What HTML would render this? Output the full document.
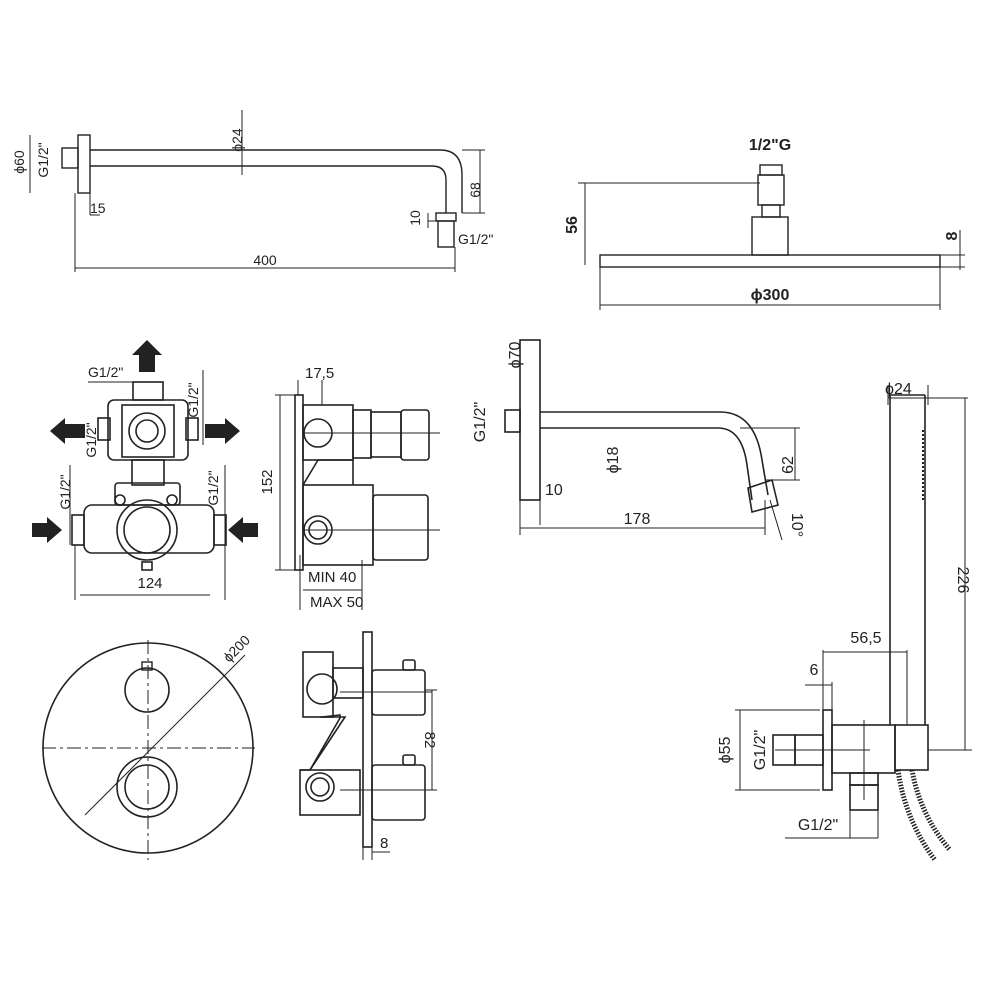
<!DOCTYPE html>
<html><head><meta charset="utf-8"><style>
html,body{margin:0;padding:0;background:#fff}
svg{display:block}
text{font-family:"Liberation Sans",sans-serif;fill:#222}
</style></head><body>
<svg width="1000" height="1000" viewBox="0 0 1000 1000" xmlns="http://www.w3.org/2000/svg">
<g stroke="#222" stroke-width="1.4" fill="none">
<!-- TOP LEFT shower arm -->
<rect x="78" y="135" width="12" height="58"/>
<rect x="62" y="148" width="16" height="20"/>
<path d="M90 150 H440 Q462 150 462 175 V213 M90 166 H432 Q446 166 446 180 V213"/>
<rect x="436" y="213" width="20" height="8"/>
<rect x="438" y="221" width="16" height="26"/>
<path d="M75 193 V272 M455 247 V272 M75 268 H455" stroke-width="1"/>
<path d="M90 193 V215 M100 215 H90" stroke-width="1"/>
<path d="M462 150 H485 M462 213 H485 M480 150 V213" stroke-width="1"/>
<path d="M428 213 V228 M428 221 H436" stroke-width="1"/>
<path d="M242 110 V175" stroke-width="1"/>
<path d="M30 135 V193" stroke-width="1"/>
<!-- TOP RIGHT shower head -->
<rect x="760" y="165" width="22" height="10"/>
<rect x="758" y="175" width="26" height="30"/>
<rect x="762" y="205" width="18" height="12"/>
<rect x="752" y="217" width="36" height="38"/>
<rect x="600" y="255" width="340" height="12"/>
<path d="M578 183 H760 M585 183 V265" stroke-width="1"/>
<path d="M600 267 V310 M940 267 V310 M600 305 H940" stroke-width="1"/>
<path d="M940 255 H965 M940 267 H965 M960 230 V270" stroke-width="1"/>
<!-- VALVE top view -->
<g stroke-width="1.6">
<rect x="133" y="382" width="30" height="18"/>
<rect x="108" y="400" width="80" height="60" rx="6"/>
<rect x="122" y="405" width="52" height="52"/>
<circle cx="147" cy="431" r="18"/><circle cx="147" cy="431" r="11"/>
<rect x="98" y="418" width="12" height="22"/><rect x="186" y="418" width="12" height="22"/>
<rect x="132" y="460" width="32" height="25"/>
<rect x="115" y="483" width="65" height="22" rx="3"/>
<rect x="84" y="505" width="130" height="48" rx="8"/>
<circle cx="147" cy="530" r="30"/><circle cx="147" cy="530" r="23"/>
<circle cx="120" cy="500" r="5"/><circle cx="172" cy="500" r="5"/>
<rect x="72" y="515" width="12" height="30"/><rect x="214" y="515" width="12" height="30"/>
<rect x="142" y="562" width="10" height="8"/>
</g>
<path d="M88 382 H157 M203 370 V445 M70 465 V545 M225 465 V545" stroke-width="1"/>
<path d="M75 545 V600 M225 545 V600 M80 595 H210" stroke-width="1"/>
<!-- arrows -->
<g fill="#222" stroke="none">
<polygon points="147,340 162,355 155,355 155,372 139,372 139,355 132,355"/>
<polygon points="50,431 65,418 65,424 85,424 85,438 65,438 65,444"/>
<polygon points="240,431 225,418 225,424 205,424 205,438 225,438 225,444"/>
<polygon points="62,530 47,517 47,523 32,523 32,537 47,537 47,543"/>
<polygon points="228,530 243,517 243,523 258,523 258,537 243,537 243,543"/>
</g>
<!-- VALVE side view -->
<g stroke-width="1.6">
<rect x="295" y="395" width="8" height="175"/>
<rect x="303" y="405" width="50" height="55"/>
<circle cx="318" cy="433" r="14"/>
<rect x="353" y="410" width="18" height="48"/>
<rect x="371" y="412" width="30" height="45"/>
<rect x="401" y="410" width="28" height="50" rx="3"/>
<path d="M303 485 L318 460 L353 460 L353 485"/>
<rect x="303" y="485" width="70" height="80"/>
<circle cx="318" cy="530" r="14"/><circle cx="318" cy="530" r="9"/>
<rect x="373" y="495" width="55" height="65" rx="3"/>
</g>
<path d="M275 395 H295 M275 570 H295 M280 395 V570 M298 380 V395 M322 380 V405 M300 555 V610 M362 560 V610 M303 590 H362 M303 433 H440 M303 530 H440" stroke-width="1"/>
<!-- ROUND PLATE -->
<circle cx="148" cy="748" r="105" stroke-width="1.6"/>
<circle cx="147" cy="690" r="22" stroke-width="1.6"/>
<rect x="142" y="662" width="10" height="8"/>
<circle cx="147" cy="787" r="30" stroke-width="1.6"/>
<circle cx="147" cy="787" r="22" stroke-width="1.6"/>
<path d="M42 748 H255 M148 640 V860" stroke-dasharray="14 4 3 4" stroke-width="1"/>
<path d="M85 815 L245 655" stroke-width="1"/>
<!-- SIDE VIEW 2 -->
<g stroke-width="1.6">
<rect x="363" y="632" width="9" height="215"/>
<rect x="303" y="652" width="30" height="65"/>
<circle cx="322" cy="689" r="15"/>
<rect x="333" y="668" width="30" height="30"/>
<path d="M322 717 L340 715 L340 718 L310 770"/>
<path d="M320 717 L345 717 L310 770 L300 770"/>
<rect x="300" y="770" width="60" height="45"/>
<circle cx="320" cy="787" r="14"/><circle cx="320" cy="787" r="9"/>
<rect x="372" y="670" width="53" height="45" rx="3"/>
<rect x="372" y="765" width="53" height="55" rx="3"/>
<rect x="403" y="660" width="12" height="10" rx="2"/>
<rect x="403" y="755" width="12" height="10" rx="2"/>
</g>
<path d="M340 692 H432 M340 790 H432 M425 690 H437 M425 790 H437 M432 690 V790 M363 847 V860 M372 847 V860 M372 852 H390" stroke-width="1"/>
<!-- SPOUT -->
<rect x="520" y="340" width="20" height="160" stroke-width="1.6"/>
<rect x="505" y="410" width="15" height="22" stroke-width="1.6"/>
<path d="M540 412 H720 Q755 412 762 460 L768 495 M540 428 H718 Q742 428 747 465 L752 500" stroke-width="1.6"/>
<path d="M748 488 L772 480 L778 505 L752 512 Z" stroke-width="1.6"/>
<path d="M520 500 V535 M765 510 V535 M520 528 H765" stroke-width="1"/>
<path d="M540 500 V525 M740 428 H800 M765 480 H800 M795 428 V480 M770 500 L782 540 M765 500 V535" stroke-width="1"/>
<!-- HAND SHOWER -->
<g stroke-width="1.6">
<path d="M890 395 V725 M925 395 V725 M890 395 H925"/>
<rect x="895" y="725" width="33" height="45"/>
<rect x="832" y="725" width="63" height="48"/>
<rect x="823" y="710" width="9" height="80"/>
<rect x="773" y="735" width="22" height="30"/>
<rect x="795" y="735" width="28" height="30"/>
<rect x="850" y="773" width="28" height="12"/>
<rect x="850" y="785" width="28" height="25"/>
<path d="M898 770 Q905 820 935 860 M912 770 Q920 815 950 850" stroke-width="5" stroke-dasharray="1.5 1.5"/>
</g>
<path d="M923 430 V500" stroke-width="2" stroke-dasharray="2 2"/>
<path d="M888 385 V405 M928 385 V405 M888 398 H968 M928 750 H972 M965 398 V750" stroke-width="1"/>
<path d="M823 710 V650 M907 725 V650 M823 652 H907 M832 710 V682 M832 685 H805 M775 750 H870 M864 720 V800" stroke-width="1"/>
<path d="M735 710 H820 M735 790 H820 M740 710 V790 M850 810 V838 M878 810 V838 M785 838 H878" stroke-width="1"/>
</g>
<!-- TEXT -->
<g font-size="14">
<text x="242" y="140" transform="rotate(-90 242 140)" text-anchor="middle">ϕ24</text>
<text x="24" y="162" transform="rotate(-90 24 162)" text-anchor="middle">ϕ60</text>
<text x="48" y="160" transform="rotate(-90 48 160)" text-anchor="middle">G1/2"</text>
<text x="90" y="213">15</text>
<text x="265" y="265" text-anchor="middle">400</text>
<text x="480" y="190" transform="rotate(-90 480 190)" text-anchor="middle">68</text>
<text x="420" y="218" transform="rotate(-90 420 218)" text-anchor="middle">10</text>
<text x="458" y="244">G1/2"</text>
<text x="770" y="150" text-anchor="middle" font-weight="bold" font-size="16">1/2"G</text>
<text x="577" y="225" transform="rotate(-90 577 225)" text-anchor="middle" font-weight="bold" font-size="16">56</text>
<text x="770" y="300" text-anchor="middle" font-weight="bold" font-size="16">ϕ300</text>
<text x="957" y="236" transform="rotate(-90 957 236)" text-anchor="middle" font-weight="bold" font-size="16">8</text>
<text x="88" y="377">G1/2"</text>
<text x="198" y="400" transform="rotate(-90 198 400)" text-anchor="middle">G1/2"</text>
<text x="96" y="440" transform="rotate(-90 96 440)" text-anchor="middle">G1/2"</text>
<text x="70" y="492" transform="rotate(-90 70 492)" text-anchor="middle">G1/2"</text>
<text x="218" y="488" transform="rotate(-90 218 488)" text-anchor="middle">G1/2"</text>
<text x="150" y="588" text-anchor="middle" font-size="15">124</text>
<text x="305" y="378" font-size="15">17,5</text>
<text x="272" y="482" transform="rotate(-90 272 482)" text-anchor="middle" font-size="15">152</text>
<text x="308" y="582" font-size="15">MIN 40</text>
<text x="310" y="607" font-size="15">MAX 50</text>
<text x="240" y="652" transform="rotate(-45 240 652)" text-anchor="middle">ϕ200</text>
<text x="425" y="740" transform="rotate(90 425 740)" text-anchor="middle" font-size="15">82</text>
<text x="380" y="848" font-size="15">8</text>
<text x="520" y="355" transform="rotate(-90 520 355)" text-anchor="middle" font-size="16">ϕ70</text>
<text x="485" y="422" transform="rotate(-90 485 422)" text-anchor="middle" font-size="16">G1/2"</text>
<text x="618" y="460" transform="rotate(-90 618 460)" text-anchor="middle" font-size="16">ϕ18</text>
<text x="545" y="495" font-size="16">10</text>
<text x="637" y="524" text-anchor="middle" font-size="16">178</text>
<text x="793" y="465" transform="rotate(-90 793 465)" text-anchor="middle" font-size="16">62</text>
<text x="792" y="525" transform="rotate(90 792 525)" text-anchor="middle" font-size="16">10°</text>
<text x="885" y="394" font-size="16">ϕ24</text>
<text x="958" y="580" transform="rotate(90 958 580)" text-anchor="middle" font-size="16">226</text>
<text x="866" y="643" text-anchor="middle" font-size="16">56,5</text>
<text x="814" y="675" text-anchor="middle" font-size="16">6</text>
<text x="730" y="750" transform="rotate(-90 730 750)" text-anchor="middle" font-size="16">ϕ55</text>
<text x="765" y="750" transform="rotate(-90 765 750)" text-anchor="middle" font-size="16">G1/2"</text>
<text x="818" y="830" text-anchor="middle" font-size="16">G1/2"</text>
</g>
</svg>
</body></html>
